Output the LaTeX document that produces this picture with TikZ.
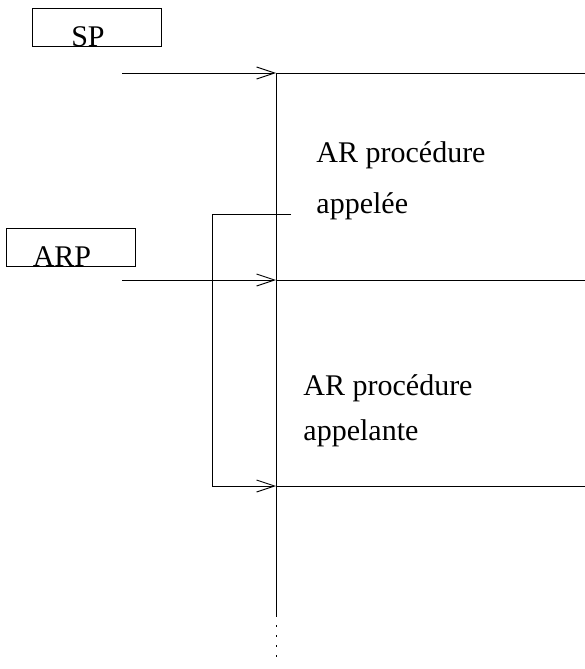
\documentclass[tikz,border=0pt]{standalone}
\usepackage{fontspec}
\setmainfont{Liberation Serif}
\usetikzlibrary{arrows.meta}
\begin{document}
\begin{tikzpicture}[x=1pt,y=-1pt,line width=0.9pt,
  regbox/.style={draw,rectangle,minimum width=129pt,minimum height=38pt,inner sep=0pt},
  lbl/.style={font=\fontsize{30}{30}\selectfont,inner sep=0pt,anchor=base west},
  ptr/.style={-{Straight Barb[length=18pt,width=12pt,line width=0.9pt]}}]
\useasboundingbox (0,0) rectangle (585,669);
% register boxes
\node[regbox] (spbox) at (96.5,27.5) {};
\node[lbl,anchor=base] (sp) at (88,47) {SP};
\node[regbox] (arpbox) at (70.5,247) {};
\node[lbl,anchor=base] (arp) at (62,266) {ARP};
% stack
\coordinate (top) at (276,73);
\coordinate (mid) at (276,280);
\coordinate (low) at (276,486);
\coordinate (solidend) at (276,615);
\coordinate (dotend) at (276,662);
\coordinate (topR) at (585,73);
\coordinate (midR) at (585,280);
\coordinate (lowR) at (585,486);
\draw (top) -- (solidend);
\draw[dash pattern=on 1.5pt off 8.5pt] (solidend) -- (dotend);
\draw (top) -- (topR);
\draw (mid) -- (midR);
\draw (low) -- (lowR);
% pointer arrows
\coordinate (spsrc) at (122,73);
\coordinate (arpsrc) at (122,280);
\draw[ptr] (spsrc) -- (top);
\draw[ptr] (arpsrc) -- (mid);
% link
\coordinate (linkstart) at (291,214);
\coordinate (linkA) at (212,214);
\coordinate (linkB) at (212,486);
\draw[ptr] (linkstart) -- (linkA) -- (linkB) -- (low);
% labels
\node[lbl] (ar1) at (316,162) {AR procédure};
\node[lbl] (ar1b) at (316,213) {appelée};
\node[lbl] (ar2) at (303,395) {AR procédure};
\node[lbl] (ar2b) at (303,440) {appelante};
\end{tikzpicture}
\end{document}
